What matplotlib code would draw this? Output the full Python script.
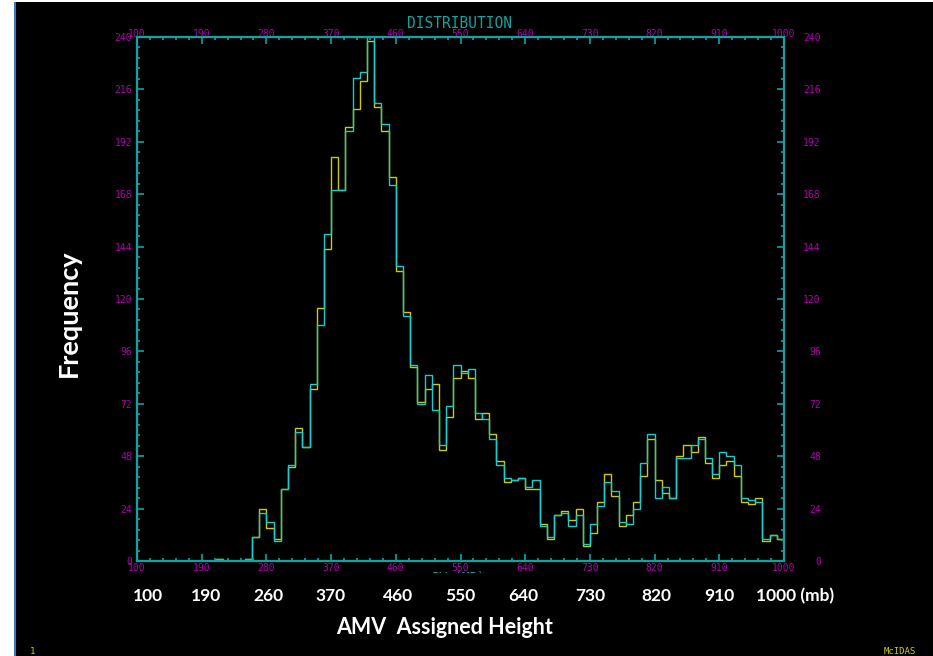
import matplotlib.pyplot as plt
from matplotlib.patches import Rectangle
from matplotlib.ticker import FixedLocator
import numpy as np

# histogram of AMV assigned heights, 10 mb bins from 100 to 1000 mb
bin_edges = np.arange(100, 1001, 10)

counts_yellow = [
    0, 0, 0, 0, 0, 0, 0, 0, 0, 0,          # 100-190
    0, 1, 0, 0, 0, 1, 11, 24, 15, 10,      # 200-290
    33, 43, 61, 52, 79, 116, 143, 185, 170, 199,   # 300-390
    207, 220, 238, 208, 197, 176, 133, 114, 89, 73,  # 400-490
    79, 81, 51, 66, 84, 87, 84, 65, 68, 58,  # 500-590
    46, 36, 37, 38, 33, 33, 17, 10, 21, 23,  # 600-690
    19, 24, 7, 13, 27, 40, 30, 16, 21, 27,   # 700-790
    39, 56, 37, 31, 29, 48, 53, 50, 57, 45,  # 800-890
    38, 44, 46, 39, 27, 26, 29, 9, 12, 10,   # 900-990
]

counts_cyan = [
    0, 0, 0, 0, 0, 0, 0, 0, 0, 0,
    0, 1, 0, 0, 0, 1, 11, 22, 18, 9,
    33, 44, 59, 52, 81, 108, 150, 170, 170, 197,
    221, 224, 250, 210, 200, 172, 135, 112, 90, 72,
    85, 69, 53, 71, 90, 86, 88, 68, 65, 56,
    44, 38, 37, 38, 34, 37, 16, 11, 21, 22,
    16, 21, 8, 17, 25, 36, 32, 18, 17, 24,
    45, 58, 29, 34, 29, 47, 47, 53, 56, 47,
    40, 50, 48, 44, 29, 28, 27, 10, 12, 10,
]

x_major = [100, 190, 280, 370, 460, 550, 640, 730, 820, 910, 1000]
y_major = [0, 24, 48, 72, 96, 120, 144, 168, 192, 216, 240]

slide_labels = ['100', '190', '260', '370', '460', '550', '640', '730', '820', '910', '1000 (mb)']
slide_label_x = [148, 206, 268, 331, 398, 460, 523, 590, 656, 719, 795]

W, H = 933, 656
FRAME = '#0fa3a3'
CYAN = '#12d0d0'
YELLOW = '#cccc00'
MAGENTA = '#b000b0'

plt.rcParams['font.family'] = 'DejaVu Sans Mono'


def fx(x):
    return x / W


def fy(y):
    return 1 - y / H


fig = plt.figure(figsize=(W / 100, H / 100), dpi=100, facecolor='black')

# white margin strip on the left with a thin blue edge
fig.patches.append(Rectangle((0, 0), fx(14), 1, transform=fig.transFigure,
                             facecolor='white', edgecolor='none', zorder=0))
fig.patches.append(Rectangle((fx(14), 0), fx(1.5), 1, transform=fig.transFigure,
                             facecolor='#3c78c8', edgecolor='none', zorder=0))
fig.patches.append(Rectangle((0, fy(2)), 1, 2 / H, transform=fig.transFigure,
                             facecolor='white', edgecolor='none', zorder=0))

ax = fig.add_axes([fx(137), fy(561), fx(784 - 137), (561 - 37) / H])
ax.set_facecolor('black')

ax.stairs(counts_yellow, bin_edges, color=YELLOW, linewidth=1.0)
ax.stairs(counts_cyan, bin_edges, color=CYAN, linewidth=1.0)

ax.set_xlim(100, 1000)
ax.set_ylim(0, 240)

x_minor = np.arange(100, 1001, 18)
y_minor = np.arange(0, 241, 4.8)
ax.xaxis.set_major_locator(FixedLocator(x_major))
ax.xaxis.set_minor_locator(FixedLocator(x_minor))
ax.yaxis.set_major_locator(FixedLocator(y_major))
ax.yaxis.set_minor_locator(FixedLocator(y_minor))

# right-hand copy of the count scale, labels flush right away from the frame
ax2 = ax.twinx()
ax2.set_ylim(0, 240)
ax2.yaxis.set_major_locator(FixedLocator(y_major))
ax2.yaxis.set_minor_locator(FixedLocator(y_minor))

# top copy of the pressure scale
ax3 = ax.twiny()
ax3.set_xlim(100, 1000)
ax3.xaxis.set_major_locator(FixedLocator(x_major))
ax3.xaxis.set_minor_locator(FixedLocator(x_minor))

for a in (ax, ax2, ax3):
    for s in a.spines.values():
        s.set_color(FRAME)
        s.set_linewidth(1.5)
    a.tick_params(axis='both', which='both', direction='in', colors=FRAME,
                  labelcolor=MAGENTA, labelsize=7, width=1.2)
    a.tick_params(axis='both', which='major', length=5)
    a.tick_params(axis='both', which='minor', length=2.5)

ax.tick_params(axis='x', top=False, bottom=True, labeltop=False, labelbottom=True, pad=1.2)
ax.tick_params(axis='y', left=True, right=False, labelleft=True, labelright=False, pad=3.5)
ax2.tick_params(axis='y', which='major', pad=26.5)
ax3.tick_params(axis='x', which='major', pad=-1.2)
for t in ax2.yaxis.get_major_ticks():
    t.label2.set_horizontalalignment('right')

fig.text(fx(459), fy(23), 'DISTRIBUTION', color=FRAME, fontsize=10.5,
         ha='center', va='center')

# axis caption partly hidden under the slide labels
fig.text(fx(458), fy(578), 'PW (MB)', color=FRAME, fontsize=9,
         ha='center', va='center', zorder=3)
fig.patches.append(Rectangle((fx(16), fy(590)), 1, (590 - 573) / H, transform=fig.transFigure,
                             facecolor='black', edgecolor='none', zorder=5))

for lbl, x in zip(slide_labels, slide_label_x):
    fig.text(fx(x), fy(596), lbl, color='white', fontsize=12.5, fontweight='bold',
             family='Lato', ha='center', va='center', zorder=6)

fig.text(fx(445), fy(628), 'AMV  Assigned Height', color='white', fontsize=15.5,
         fontweight='bold', family='Lato', ha='center', va='center', zorder=6)
fig.text(fx(69), fy(313), 'Frequency', color='white', fontsize=19.5,
         fontweight='bold', family='Lato', ha='center', va='center', rotation=90)

fig.text(fx(900), fy(651), 'McIDAS', color=YELLOW, fontsize=6.5, ha='center', va='center')
fig.text(fx(33), fy(651), '1', color=YELLOW, fontsize=6.5, ha='center', va='center')

fig.savefig('out.png', dpi=100, facecolor='black')
